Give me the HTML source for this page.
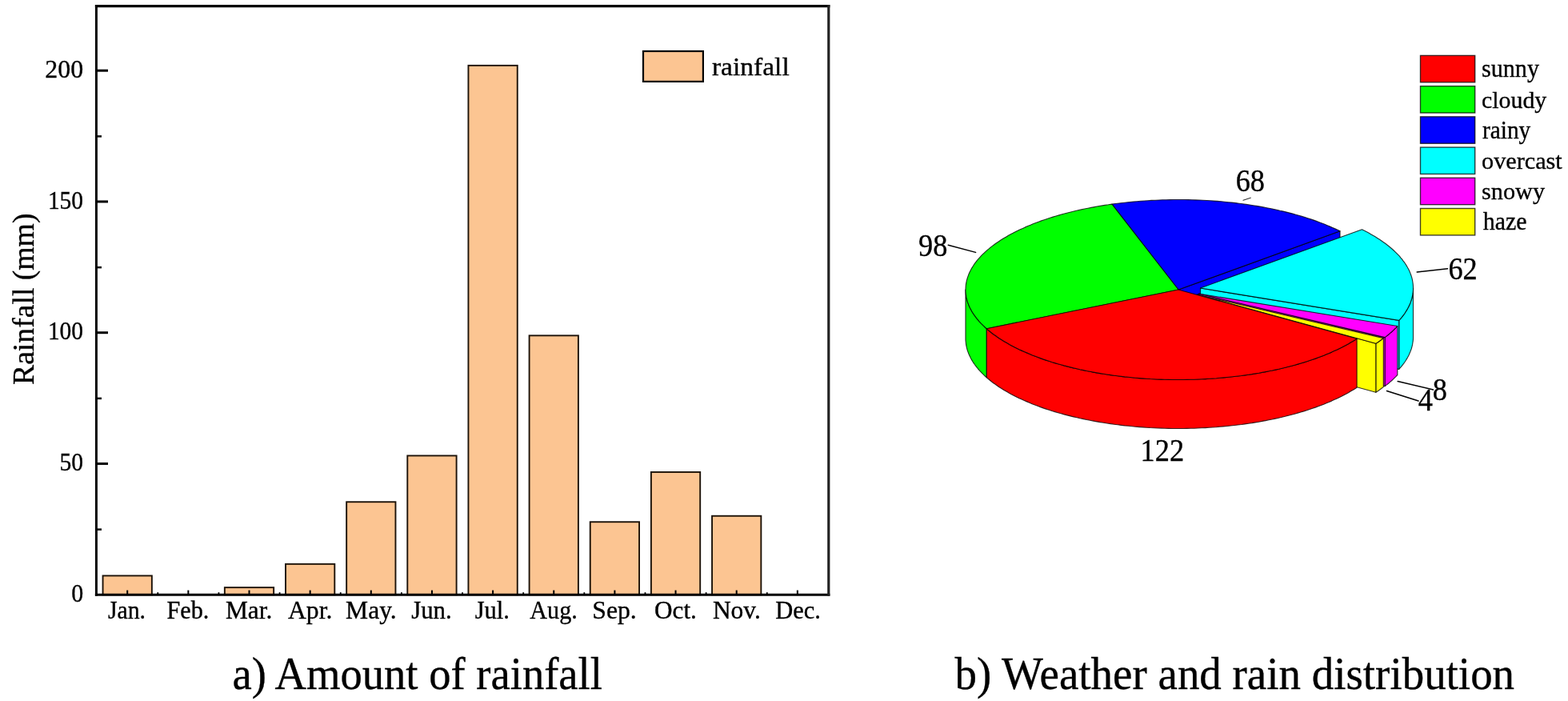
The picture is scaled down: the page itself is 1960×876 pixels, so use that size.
<!DOCTYPE html>
<html lang="en">
<head>
<meta charset="utf-8">
<title>Rainfall and weather distribution</title>
<style>
html,body{margin:0;padding:0;background:#fff;}
body{width:1960px;height:876px;overflow:hidden;font-family:"Liberation Serif",serif;}
svg{display:block;}
</style>
</head>
<body>
<svg width="1960" height="876" viewBox="0 0 1960 876" role="img" aria-label="Rainfall bar chart and weather distribution pie chart">
<rect width="1960" height="876" fill="#fff"/>
<g id="bars" fill="#FCC592" stroke="#1c1208" stroke-width="1.9">
<rect x="128.55" y="719.45" width="61.30" height="23.75"/>
<rect x="280.85" y="734.15" width="61.30" height="9.05"/>
<rect x="357.00" y="704.85" width="61.30" height="38.35"/>
<rect x="433.15" y="627.25" width="61.30" height="115.95"/>
<rect x="509.30" y="569.45" width="61.30" height="173.75"/>
<rect x="585.45" y="81.85" width="61.30" height="661.35"/>
<rect x="661.60" y="419.35" width="61.30" height="323.85"/>
<rect x="737.75" y="652.25" width="61.30" height="90.95"/>
<rect x="813.90" y="589.95" width="61.30" height="153.25"/>
<rect x="890.05" y="644.75" width="61.30" height="98.45"/>
</g>
<g id="xticks" stroke="#000" fill="none" stroke-width="2">
<path d="M159.20 743.2 V737.60"/>
<path d="M197.27 743.2 V740.20" stroke-width="1.8"/>
<path d="M235.35 743.2 V737.60"/>
<path d="M273.43 743.2 V740.20" stroke-width="1.8"/>
<path d="M311.50 743.2 V737.60"/>
<path d="M349.57 743.2 V740.20" stroke-width="1.8"/>
<path d="M387.65 743.2 V737.60"/>
<path d="M425.72 743.2 V740.20" stroke-width="1.8"/>
<path d="M463.80 743.2 V737.60"/>
<path d="M501.88 743.2 V740.20" stroke-width="1.8"/>
<path d="M539.95 743.2 V737.60"/>
<path d="M578.03 743.2 V740.20" stroke-width="1.8"/>
<path d="M616.10 743.2 V737.60"/>
<path d="M654.18 743.2 V740.20" stroke-width="1.8"/>
<path d="M692.25 743.2 V737.60"/>
<path d="M730.33 743.2 V740.20" stroke-width="1.8"/>
<path d="M768.40 743.2 V737.60"/>
<path d="M806.48 743.2 V740.20" stroke-width="1.8"/>
<path d="M844.55 743.2 V737.60"/>
<path d="M882.62 743.2 V740.20" stroke-width="1.8"/>
<path d="M920.70 743.2 V737.60"/>
<path d="M958.78 743.2 V740.20" stroke-width="1.8"/>
<path d="M996.85 743.2 V737.60"/>
</g>
<g id="frame" fill="none" stroke="#000">
<path d="M120.4 744.7 V6.0" stroke-width="3"/>
<path d="M118.9 7.6 H1037.3999999999999" stroke-width="3.2"/>
<path d="M118.9 743.2 H1037.3999999999999" stroke-width="3.1"/>
<path d="M1035.8 6.0 V744.7" stroke="#222" stroke-width="3.2"/>
</g>
<g id="yticks" stroke="#000" fill="none">
<path d="M120.4 579.45 H135.00" stroke-width="3"/>
<path d="M120.4 415.70 H135.00" stroke-width="3"/>
<path d="M120.4 251.95 H135.00" stroke-width="3"/>
<path d="M120.4 88.20 H135.00" stroke-width="3"/>
<path d="M120.4 661.62 H127.00" stroke-width="2.6" stroke-opacity="0.9"/>
<path d="M120.4 497.88 H127.00" stroke-width="2.6" stroke-opacity="0.9"/>
<path d="M120.4 334.13 H127.00" stroke-width="2.6" stroke-opacity="0.9"/>
<path d="M120.4 170.38 H127.00" stroke-width="2.6" stroke-opacity="0.9"/>
</g>
<g id="ylabels">
<text transform="translate(56.27 96.80) scale(1.0289 1)" font-family='"Liberation Serif", serif' font-size="31" fill="#000" stroke="#000" stroke-width="0.35">200</text>
<text transform="translate(59.90 260.55) scale(0.9500 1)" font-family='"Liberation Serif", serif' font-size="31" fill="#000" stroke="#000" stroke-width="0.35">150</text>
<text transform="translate(59.90 424.30) scale(0.9500 1)" font-family='"Liberation Serif", serif' font-size="31" fill="#000" stroke="#000" stroke-width="0.35">100</text>
<text transform="translate(74.55 588.05) scale(0.9525 1)" font-family='"Liberation Serif", serif' font-size="31" fill="#000" stroke="#000" stroke-width="0.35">50</text>
<text transform="translate(89.14 751.80) scale(0.9643 1)" font-family='"Liberation Serif", serif' font-size="31" fill="#000" stroke="#000" stroke-width="0.35">0</text>
</g>
<g id="xlabels">
<text transform="translate(135.00 772.70) scale(0.9593 1)" font-family='"Liberation Serif", serif' font-size="31" fill="#000" stroke="#000" stroke-width="0.35">Jan.</text>
<text transform="translate(208.50 772.70) scale(0.9733 1)" font-family='"Liberation Serif", serif' font-size="31" fill="#000" stroke="#000" stroke-width="0.35">Feb.</text>
<text transform="translate(281.90 772.70) scale(1.0118 1)" font-family='"Liberation Serif", serif' font-size="31" fill="#000" stroke="#000" stroke-width="0.35">Mar.</text>
<text transform="translate(360.00 772.70) scale(1.0210 1)" font-family='"Liberation Serif", serif' font-size="31" fill="#000" stroke="#000" stroke-width="0.35">Apr.</text>
<text transform="translate(432.10 772.70) scale(1.0179 1)" font-family='"Liberation Serif", serif' font-size="31" fill="#000" stroke="#000" stroke-width="0.35">May.</text>
<text transform="translate(514.20 772.70) scale(0.9943 1)" font-family='"Liberation Serif", serif' font-size="31" fill="#000" stroke="#000" stroke-width="0.35">Jun.</text>
<text transform="translate(593.70 772.70) scale(0.9837 1)" font-family='"Liberation Serif", serif' font-size="31" fill="#000" stroke="#000" stroke-width="0.35">Jul.</text>
<text transform="translate(662.30 772.70) scale(0.9732 1)" font-family='"Liberation Serif", serif' font-size="31" fill="#000" stroke="#000" stroke-width="0.35">Aug.</text>
<text transform="translate(740.25 772.70) scale(1.0238 1)" font-family='"Liberation Serif", serif' font-size="31" fill="#000" stroke="#000" stroke-width="0.35">Sep.</text>
<text transform="translate(818.10 772.70) scale(1.0047 1)" font-family='"Liberation Serif", serif' font-size="31" fill="#000" stroke="#000" stroke-width="0.35">Oct.</text>
<text transform="translate(890.90 772.70) scale(1.0144 1)" font-family='"Liberation Serif", serif' font-size="31" fill="#000" stroke="#000" stroke-width="0.35">Nov.</text>
<text transform="translate(969.30 772.70) scale(0.9820 1)" font-family='"Liberation Serif", serif' font-size="31" fill="#000" stroke="#000" stroke-width="0.35">Dec.</text>
</g>
<text transform="translate(41.80 480.97) rotate(-90) scale(0.9662 1)" font-family='"Liberation Serif", serif' font-size="39" fill="#000" stroke="#000" stroke-width="0.35">Rainfall (mm)</text>
<rect x="804.0" y="64.0" width="74.9" height="37.9" fill="#FCC592" stroke="#000" stroke-width="2.2"/>
<text transform="translate(889.90 93.70) scale(1.0329 1)" font-family='"Liberation Serif", serif' font-size="32.5" fill="#000" stroke="#000" stroke-width="0.35">rainfall</text>
<text transform="translate(290.52 861.00) scale(0.9751 1)" font-family='"Liberation Serif", serif' font-size="56" fill="#000" stroke="#000" stroke-width="0.35">a) Amount of rainfall</text>
<text transform="translate(1193.60 861.00) scale(0.9813 1)" font-family='"Liberation Serif", serif' font-size="56" fill="#000" stroke="#000" stroke-width="0.35">b) Weather and rain distribution</text>
<g id="pie">
<path d="M1473.0 362.0 L1675.0 288.8 L1675.0 349.8 L1473.0 423.0Z" fill="#0000FF" stroke="#000" stroke-opacity="0.78" stroke-width="1.15" stroke-linejoin="round"/>
<path d="M1473.0 362.0 L1389.9 255.1 L1394.2 254.5 L1398.7 254.0 L1403.1 253.5 L1407.6 253.0 L1412.1 252.5 L1416.6 252.1 L1421.1 251.7 L1425.6 251.3 L1430.2 251.0 L1434.7 250.7 L1439.3 250.4 L1443.9 250.2 L1448.5 250.0 L1453.1 249.8 L1457.7 249.7 L1462.3 249.6 L1466.9 249.5 L1471.5 249.5 L1476.2 249.5 L1480.8 249.5 L1485.4 249.6 L1490.0 249.7 L1494.6 249.9 L1499.2 250.0 L1503.8 250.3 L1508.4 250.5 L1512.9 250.8 L1517.5 251.1 L1522.0 251.4 L1526.6 251.8 L1531.1 252.2 L1535.6 252.7 L1540.1 253.1 L1544.5 253.6 L1549.0 254.2 L1553.4 254.8 L1557.8 255.4 L1562.1 256.0 L1566.5 256.7 L1570.8 257.4 L1575.0 258.1 L1579.3 258.9 L1583.5 259.7 L1587.7 260.5 L1591.8 261.4 L1596.0 262.2 L1600.0 263.2 L1604.1 264.1 L1608.1 265.1 L1612.0 266.1 L1615.9 267.1 L1619.8 268.2 L1623.6 269.3 L1627.4 270.4 L1631.2 271.5 L1634.8 272.7 L1638.5 273.9 L1642.1 275.1 L1645.6 276.4 L1649.1 277.7 L1652.5 279.0 L1655.9 280.3 L1659.2 281.7 L1662.5 283.1 L1665.7 284.5 L1668.9 285.9 L1672.0 287.3 L1675.0 288.8Z" fill="#0000FF" stroke="#000" stroke-opacity="0.78" stroke-width="1.15" stroke-linejoin="round"/>
<path d="M1233.3 410.7 L1231.3 409.0 L1229.4 407.2 L1227.6 405.4 L1225.9 403.6 L1224.2 401.8 L1222.6 400.0 L1221.1 398.2 L1219.7 396.3 L1218.3 394.5 L1217.0 392.6 L1215.8 390.8 L1214.7 388.9 L1213.6 387.0 L1212.7 385.1 L1211.8 383.2 L1210.9 381.3 L1210.2 379.4 L1209.5 377.5 L1208.9 375.5 L1208.4 373.6 L1208.0 371.7 L1207.6 369.7 L1207.4 367.8 L1207.2 365.9 L1207.0 363.9 L1207.0 362.0 L1207.0 423.0 L1207.0 424.9 L1207.2 426.9 L1207.4 428.8 L1207.6 430.7 L1208.0 432.7 L1208.4 434.6 L1208.9 436.5 L1209.5 438.5 L1210.2 440.4 L1210.9 442.3 L1211.8 444.2 L1212.7 446.1 L1213.6 448.0 L1214.7 449.9 L1215.8 451.8 L1217.0 453.6 L1218.3 455.5 L1219.7 457.3 L1221.1 459.2 L1222.6 461.0 L1224.2 462.8 L1225.9 464.6 L1227.6 466.4 L1229.4 468.2 L1231.3 470.0 L1233.3 471.7Z" fill="#00FF00" stroke="#000" stroke-opacity="0.78" stroke-width="1.15" stroke-linejoin="round"/>
<path d="M1473.0 362.0 L1233.3 410.7 L1231.3 409.0 L1229.4 407.2 L1227.6 405.4 L1225.8 403.6 L1224.2 401.8 L1222.6 399.9 L1221.1 398.1 L1219.6 396.2 L1218.3 394.4 L1217.0 392.5 L1215.7 390.6 L1214.6 388.7 L1213.6 386.8 L1212.6 384.9 L1211.7 383.0 L1210.9 381.1 L1210.1 379.1 L1209.4 377.2 L1208.9 375.3 L1208.4 373.3 L1207.9 371.4 L1207.6 369.4 L1207.3 367.5 L1207.1 365.5 L1207.0 363.6 L1207.0 361.6 L1207.1 359.7 L1207.2 357.7 L1207.4 355.8 L1207.7 353.8 L1208.1 351.9 L1208.5 349.9 L1209.1 348.0 L1209.7 346.1 L1210.4 344.1 L1211.1 342.2 L1212.0 340.3 L1212.9 338.4 L1213.9 336.5 L1215.0 334.6 L1216.2 332.7 L1217.4 330.8 L1218.7 328.9 L1220.1 327.1 L1221.6 325.2 L1223.2 323.4 L1224.8 321.6 L1226.5 319.7 L1228.2 317.9 L1230.1 316.2 L1232.0 314.4 L1234.0 312.6 L1236.1 310.9 L1238.2 309.1 L1240.4 307.4 L1242.7 305.7 L1245.0 304.0 L1247.4 302.4 L1249.9 300.7 L1252.5 299.1 L1255.1 297.5 L1257.8 295.9 L1260.5 294.3 L1263.3 292.8 L1266.2 291.3 L1269.1 289.7 L1272.1 288.3 L1275.2 286.8 L1278.3 285.4 L1281.5 283.9 L1284.7 282.5 L1288.0 281.2 L1291.3 279.8 L1294.7 278.5 L1298.2 277.2 L1301.7 275.9 L1305.2 274.7 L1308.9 273.5 L1312.5 272.3 L1316.2 271.1 L1320.0 270.0 L1323.8 268.9 L1327.6 267.8 L1331.5 266.7 L1335.4 265.7 L1339.4 264.7 L1343.4 263.8 L1347.5 262.8 L1351.6 261.9 L1355.7 261.0 L1359.8 260.2 L1364.0 259.4 L1368.3 258.6 L1372.5 257.8 L1376.8 257.1 L1381.1 256.4 L1385.5 255.8 L1389.9 255.1Z" fill="#00FF00" stroke="#000" stroke-opacity="0.78" stroke-width="1.15" stroke-linejoin="round"/>
<path d="M1766.5 360.0 L1766.5 361.9 L1766.4 363.8 L1766.2 365.6 L1765.9 367.5 L1765.6 369.4 L1765.2 371.3 L1764.7 373.1 L1764.2 375.0 L1763.5 376.9 L1762.8 378.7 L1762.0 380.6 L1761.2 382.4 L1760.3 384.2 L1759.3 386.1 L1758.2 387.9 L1757.1 389.7 L1755.9 391.5 L1754.6 393.3 L1753.2 395.1 L1751.8 396.9 L1750.3 398.7 L1748.7 400.4 L1748.7 461.4 L1750.3 459.7 L1751.8 457.9 L1753.2 456.1 L1754.6 454.3 L1755.9 452.5 L1757.1 450.7 L1758.2 448.9 L1759.3 447.1 L1760.3 445.2 L1761.2 443.4 L1762.0 441.6 L1762.8 439.7 L1763.5 437.9 L1764.2 436.0 L1764.7 434.1 L1765.2 432.3 L1765.6 430.4 L1765.9 428.5 L1766.2 426.6 L1766.4 424.8 L1766.5 422.9 L1766.5 421.0Z" fill="#00FFFF" stroke="#000" stroke-opacity="0.78" stroke-width="1.15" stroke-linejoin="round"/>
<path d="M1500.5 360.0 L1748.7 400.4 L1748.7 461.4 L1500.5 421.0Z" fill="#00FFFF" stroke="#000" stroke-opacity="0.78" stroke-width="1.15" stroke-linejoin="round"/>
<path d="M1500.5 360.0 L1702.5 286.8 L1705.5 288.3 L1708.4 289.8 L1711.3 291.3 L1714.0 292.9 L1716.8 294.5 L1719.4 296.1 L1722.0 297.7 L1724.5 299.3 L1727.0 301.0 L1729.4 302.7 L1731.7 304.3 L1733.9 306.0 L1736.1 307.8 L1738.2 309.5 L1740.3 311.3 L1742.2 313.0 L1744.1 314.8 L1745.9 316.6 L1747.7 318.4 L1749.4 320.2 L1750.9 322.1 L1752.5 323.9 L1753.9 325.8 L1755.3 327.6 L1756.6 329.5 L1757.8 331.4 L1758.9 333.3 L1760.0 335.2 L1761.0 337.1 L1761.9 339.0 L1762.7 340.9 L1763.4 342.8 L1764.1 344.8 L1764.7 346.7 L1765.2 348.7 L1765.6 350.6 L1765.9 352.5 L1766.2 354.5 L1766.4 356.5 L1766.5 358.4 L1766.5 360.4 L1766.5 362.3 L1766.3 364.3 L1766.1 366.2 L1765.8 368.2 L1765.4 370.1 L1765.0 372.0 L1764.5 374.0 L1763.8 375.9 L1763.2 377.9 L1762.4 379.8 L1761.5 381.7 L1760.6 383.6 L1759.6 385.5 L1758.5 387.4 L1757.3 389.3 L1756.1 391.2 L1754.8 393.1 L1753.4 394.9 L1751.9 396.8 L1750.4 398.6 L1748.7 400.4Z" fill="#00FFFF" stroke="#000" stroke-opacity="0.78" stroke-width="1.15" stroke-linejoin="round"/>
<path d="M1746.8 407.5 L1745.1 409.3 L1743.3 411.1 L1741.5 412.9 L1739.5 414.7 L1737.5 416.4 L1735.5 418.2 L1733.3 419.9 L1731.1 421.6 L1731.1 482.6 L1733.3 480.9 L1735.5 479.2 L1737.5 477.4 L1739.5 475.7 L1741.5 473.9 L1743.3 472.1 L1745.1 470.3 L1746.8 468.5Z" fill="#FF00FF" stroke="#000" stroke-opacity="0.78" stroke-width="1.15" stroke-linejoin="round"/>
<path d="M1498.5 367.0 L1731.1 421.6 L1731.1 482.6 L1498.5 428.0Z" fill="#FF00FF" stroke="#000" stroke-opacity="0.78" stroke-width="1.15" stroke-linejoin="round"/>
<path d="M1498.5 367.0 L1746.8 407.5 L1745.1 409.3 L1743.3 411.1 L1741.5 412.9 L1739.5 414.7 L1737.5 416.4 L1735.5 418.2 L1733.3 419.9 L1731.1 421.6Z" fill="#FF00FF" stroke="#000" stroke-opacity="0.78" stroke-width="1.15" stroke-linejoin="round"/>
<path d="M1729.3 422.6 L1727.0 424.3 L1724.7 426.0 L1722.3 427.7 L1719.8 429.3 L1719.8 490.3 L1722.3 488.7 L1724.7 487.0 L1727.0 485.3 L1729.3 483.6Z" fill="#FFFF00" stroke="#000" stroke-opacity="0.78" stroke-width="1.15" stroke-linejoin="round"/>
<path d="M1496.7 368.0 L1719.8 429.3 L1719.8 490.3 L1496.7 429.0Z" fill="#FFFF00" stroke="#000" stroke-opacity="0.78" stroke-width="1.15" stroke-linejoin="round"/>
<path d="M1496.7 368.0 L1729.3 422.6 L1727.0 424.3 L1724.7 426.0 L1722.3 427.7 L1719.8 429.3Z" fill="#FFFF00" stroke="#000" stroke-opacity="0.78" stroke-width="1.15" stroke-linejoin="round"/>
<path d="M1696.1 423.3 L1693.5 424.9 L1690.9 426.5 L1688.2 428.1 L1685.5 429.7 L1682.7 431.2 L1679.8 432.7 L1676.9 434.3 L1673.9 435.7 L1670.8 437.2 L1667.7 438.6 L1664.5 440.1 L1661.3 441.5 L1658.0 442.8 L1654.7 444.2 L1651.3 445.5 L1647.8 446.8 L1644.3 448.1 L1640.8 449.3 L1637.1 450.5 L1633.5 451.7 L1629.8 452.9 L1626.0 454.0 L1622.2 455.1 L1618.4 456.2 L1614.5 457.3 L1610.6 458.3 L1606.6 459.3 L1602.6 460.2 L1598.5 461.2 L1594.4 462.1 L1590.3 463.0 L1586.2 463.8 L1582.0 464.6 L1577.7 465.4 L1573.5 466.2 L1569.2 466.9 L1564.9 467.6 L1560.5 468.2 L1556.1 468.9 L1551.8 469.5 L1547.3 470.0 L1542.9 470.5 L1538.4 471.0 L1533.9 471.5 L1529.4 471.9 L1524.9 472.3 L1520.4 472.7 L1515.8 473.0 L1511.3 473.3 L1506.7 473.6 L1502.1 473.8 L1497.5 474.0 L1492.9 474.2 L1488.3 474.3 L1483.7 474.4 L1479.1 474.5 L1474.5 474.5 L1469.8 474.5 L1465.2 474.5 L1460.6 474.4 L1456.0 474.3 L1451.4 474.1 L1446.8 474.0 L1442.2 473.7 L1437.6 473.5 L1433.1 473.2 L1428.5 472.9 L1424.0 472.6 L1419.4 472.2 L1414.9 471.8 L1410.4 471.3 L1405.9 470.9 L1401.5 470.4 L1397.0 469.8 L1392.6 469.2 L1388.2 468.6 L1383.9 468.0 L1379.5 467.3 L1375.2 466.6 L1371.0 465.9 L1366.7 465.1 L1362.5 464.3 L1358.3 463.5 L1354.2 462.6 L1350.0 461.8 L1346.0 460.8 L1341.9 459.9 L1337.9 458.9 L1334.0 457.9 L1330.1 456.9 L1326.2 455.8 L1322.4 454.7 L1318.6 453.6 L1314.8 452.5 L1311.2 451.3 L1307.5 450.1 L1303.9 448.9 L1300.4 447.6 L1296.9 446.3 L1293.5 445.0 L1290.1 443.7 L1286.8 442.3 L1283.5 440.9 L1280.3 439.5 L1277.1 438.1 L1274.0 436.7 L1271.0 435.2 L1268.0 433.7 L1265.1 432.2 L1262.3 430.7 L1259.5 429.1 L1256.8 427.5 L1254.1 425.9 L1251.5 424.3 L1249.0 422.7 L1246.5 421.0 L1244.2 419.3 L1241.8 417.7 L1239.6 416.0 L1237.4 414.2 L1235.3 412.5 L1233.3 410.7 L1233.3 471.7 L1235.3 473.5 L1237.4 475.2 L1239.6 477.0 L1241.8 478.7 L1244.2 480.3 L1246.5 482.0 L1249.0 483.7 L1251.5 485.3 L1254.1 486.9 L1256.8 488.5 L1259.5 490.1 L1262.3 491.7 L1265.1 493.2 L1268.0 494.7 L1271.0 496.2 L1274.0 497.7 L1277.1 499.1 L1280.3 500.5 L1283.5 501.9 L1286.8 503.3 L1290.1 504.7 L1293.5 506.0 L1296.9 507.3 L1300.4 508.6 L1303.9 509.9 L1307.5 511.1 L1311.2 512.3 L1314.8 513.5 L1318.6 514.6 L1322.4 515.7 L1326.2 516.8 L1330.1 517.9 L1334.0 518.9 L1337.9 519.9 L1341.9 520.9 L1346.0 521.8 L1350.0 522.8 L1354.2 523.6 L1358.3 524.5 L1362.5 525.3 L1366.7 526.1 L1371.0 526.9 L1375.2 527.6 L1379.5 528.3 L1383.9 529.0 L1388.2 529.6 L1392.6 530.2 L1397.0 530.8 L1401.5 531.4 L1405.9 531.9 L1410.4 532.3 L1414.9 532.8 L1419.4 533.2 L1424.0 533.6 L1428.5 533.9 L1433.1 534.2 L1437.6 534.5 L1442.2 534.7 L1446.8 535.0 L1451.4 535.1 L1456.0 535.3 L1460.6 535.4 L1465.2 535.5 L1469.8 535.5 L1474.5 535.5 L1479.1 535.5 L1483.7 535.4 L1488.3 535.3 L1492.9 535.2 L1497.5 535.0 L1502.1 534.8 L1506.7 534.6 L1511.3 534.3 L1515.8 534.0 L1520.4 533.7 L1524.9 533.3 L1529.4 532.9 L1533.9 532.5 L1538.4 532.0 L1542.9 531.5 L1547.3 531.0 L1551.8 530.5 L1556.1 529.9 L1560.5 529.2 L1564.9 528.6 L1569.2 527.9 L1573.5 527.2 L1577.7 526.4 L1582.0 525.6 L1586.2 524.8 L1590.3 524.0 L1594.4 523.1 L1598.5 522.2 L1602.6 521.2 L1606.6 520.3 L1610.6 519.3 L1614.5 518.3 L1618.4 517.2 L1622.2 516.1 L1626.0 515.0 L1629.8 513.9 L1633.5 512.7 L1637.1 511.5 L1640.8 510.3 L1644.3 509.1 L1647.8 507.8 L1651.3 506.5 L1654.7 505.2 L1658.0 503.8 L1661.3 502.5 L1664.5 501.1 L1667.7 499.6 L1670.8 498.2 L1673.9 496.7 L1676.9 495.3 L1679.8 493.7 L1682.7 492.2 L1685.5 490.7 L1688.2 489.1 L1690.9 487.5 L1693.5 485.9 L1696.1 484.3Z" fill="#FF0000" stroke="#000" stroke-opacity="0.78" stroke-width="1.15" stroke-linejoin="round"/>
<path d="M1473.0 362.0 L1696.1 423.3 L1693.5 424.9 L1690.9 426.5 L1688.2 428.1 L1685.5 429.7 L1682.7 431.2 L1679.8 432.7 L1676.9 434.3 L1673.9 435.7 L1670.8 437.2 L1667.7 438.6 L1664.5 440.1 L1661.3 441.5 L1658.0 442.8 L1654.7 444.2 L1651.3 445.5 L1647.8 446.8 L1644.3 448.1 L1640.8 449.3 L1637.1 450.5 L1633.5 451.7 L1629.8 452.9 L1626.0 454.0 L1622.2 455.1 L1618.4 456.2 L1614.5 457.3 L1610.6 458.3 L1606.6 459.3 L1602.6 460.2 L1598.5 461.2 L1594.4 462.1 L1590.3 463.0 L1586.2 463.8 L1582.0 464.6 L1577.7 465.4 L1573.5 466.2 L1569.2 466.9 L1564.9 467.6 L1560.5 468.2 L1556.1 468.9 L1551.8 469.5 L1547.3 470.0 L1542.9 470.5 L1538.4 471.0 L1533.9 471.5 L1529.4 471.9 L1524.9 472.3 L1520.4 472.7 L1515.8 473.0 L1511.3 473.3 L1506.7 473.6 L1502.1 473.8 L1497.5 474.0 L1492.9 474.2 L1488.3 474.3 L1483.7 474.4 L1479.1 474.5 L1474.5 474.5 L1469.8 474.5 L1465.2 474.5 L1460.6 474.4 L1456.0 474.3 L1451.4 474.1 L1446.8 474.0 L1442.2 473.7 L1437.6 473.5 L1433.1 473.2 L1428.5 472.9 L1424.0 472.6 L1419.4 472.2 L1414.9 471.8 L1410.4 471.3 L1405.9 470.9 L1401.5 470.4 L1397.0 469.8 L1392.6 469.2 L1388.2 468.6 L1383.9 468.0 L1379.5 467.3 L1375.2 466.6 L1371.0 465.9 L1366.7 465.1 L1362.5 464.3 L1358.3 463.5 L1354.2 462.6 L1350.0 461.8 L1346.0 460.8 L1341.9 459.9 L1337.9 458.9 L1334.0 457.9 L1330.1 456.9 L1326.2 455.8 L1322.4 454.7 L1318.6 453.6 L1314.8 452.5 L1311.2 451.3 L1307.5 450.1 L1303.9 448.9 L1300.4 447.6 L1296.9 446.3 L1293.5 445.0 L1290.1 443.7 L1286.8 442.3 L1283.5 440.9 L1280.3 439.5 L1277.1 438.1 L1274.0 436.7 L1271.0 435.2 L1268.0 433.7 L1265.1 432.2 L1262.3 430.7 L1259.5 429.1 L1256.8 427.5 L1254.1 425.9 L1251.5 424.3 L1249.0 422.7 L1246.5 421.0 L1244.2 419.3 L1241.8 417.7 L1239.6 416.0 L1237.4 414.2 L1235.3 412.5 L1233.3 410.7Z" fill="#FF0000" stroke="#000" stroke-opacity="0.78" stroke-width="1.15" stroke-linejoin="round"/>
</g>
<g id="leaders" stroke="#000" stroke-width="1.5" fill="none" stroke-linecap="round">
<path d="M1185.2 306.2 L1219.6 315.4"/>
<path d="M1771.2 340.0 L1809.5 335.7"/>
<path d="M1747.2 476.6 L1791.5 487.0"/>
<path d="M1733.5 488.5 L1773.0 501.0"/>
<path d="M1554.0 250.2 L1563.2 247.2" stroke-width="1.2" stroke-opacity="0.8"/>
</g>
<g id="pielabels">
<text transform="translate(1544.71 239.00) scale(0.9200 1)" font-family='"Liberation Serif", serif' font-size="39.5" fill="#000" stroke="#000" stroke-width="0.35">68</text>
<text transform="translate(1148.02 320.40) scale(0.9200 1)" font-family='"Liberation Serif", serif' font-size="39.5" fill="#000" stroke="#000" stroke-width="0.35">98</text>
<text transform="translate(1810.42 349.00) scale(0.9200 1)" font-family='"Liberation Serif", serif' font-size="39.5" fill="#000" stroke="#000" stroke-width="0.35">62</text>
<text transform="translate(1790.70 499.50) scale(0.9200 1)" font-family='"Liberation Serif", serif' font-size="39.5" fill="#000" stroke="#000" stroke-width="0.35">8</text>
<text transform="translate(1772.65 513.20) scale(0.9200 1)" font-family='"Liberation Serif", serif' font-size="39.5" fill="#000" stroke="#000" stroke-width="0.35">4</text>
<text transform="translate(1425.57 576.30) scale(0.9200 1)" font-family='"Liberation Serif", serif' font-size="39.5" fill="#000" stroke="#000" stroke-width="0.35">122</text>
</g>
<g id="pielegend">
<rect x="1775.5" y="69.40" width="68.2" height="33.4" fill="#FF0000" stroke="#000" stroke-opacity="0.75" stroke-width="1.4"/>
<text transform="translate(1852.01 96.30) scale(0.9873 1)" font-family='"Liberation Serif", serif' font-size="30.5" fill="#000" stroke="#000" stroke-width="0.35">sunny</text>
<rect x="1775.5" y="107.62" width="68.2" height="33.4" fill="#00FF00" stroke="#000" stroke-opacity="0.75" stroke-width="1.4"/>
<text transform="translate(1852.02 134.52) scale(0.9787 1)" font-family='"Liberation Serif", serif' font-size="30.5" fill="#000" stroke="#000" stroke-width="0.35">cloudy</text>
<rect x="1775.5" y="145.84" width="68.2" height="33.4" fill="#0000FF" stroke="#000" stroke-opacity="0.75" stroke-width="1.4"/>
<text transform="translate(1853.00 172.74) scale(0.9618 1)" font-family='"Liberation Serif", serif' font-size="30.5" fill="#000" stroke="#000" stroke-width="0.35">rainy</text>
<rect x="1775.5" y="184.06" width="68.2" height="33.4" fill="#00FFFF" stroke="#000" stroke-opacity="0.75" stroke-width="1.4"/>
<text transform="translate(1852.01 210.96) scale(0.9916 1)" font-family='"Liberation Serif", serif' font-size="30.5" fill="#000" stroke="#000" stroke-width="0.35">overcast</text>
<rect x="1775.5" y="222.28" width="68.2" height="33.4" fill="#FF00FF" stroke="#000" stroke-opacity="0.75" stroke-width="1.4"/>
<text transform="translate(1852.01 249.18) scale(0.9924 1)" font-family='"Liberation Serif", serif' font-size="30.5" fill="#000" stroke="#000" stroke-width="0.35">snowy</text>
<rect x="1775.5" y="260.50" width="68.2" height="33.4" fill="#FFFF00" stroke="#000" stroke-opacity="0.75" stroke-width="1.4"/>
<text transform="translate(1853.80 287.40) scale(0.9812 1)" font-family='"Liberation Serif", serif' font-size="30.5" fill="#000" stroke="#000" stroke-width="0.35">haze</text>
</g>
</svg>
</body>
</html>
